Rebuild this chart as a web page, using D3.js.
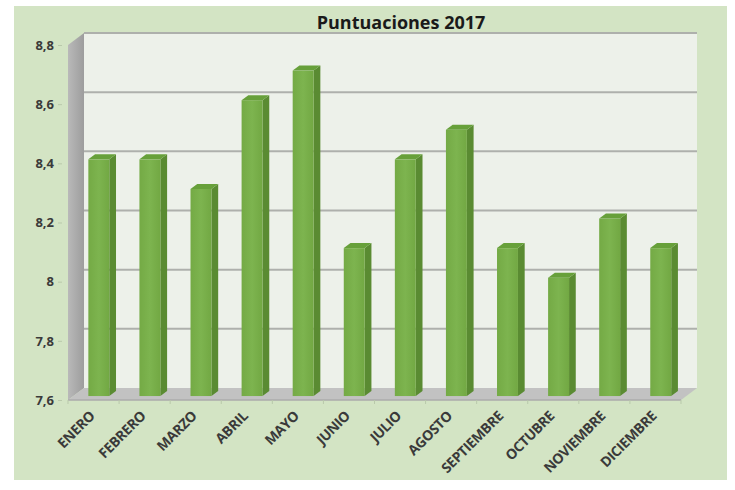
<!DOCTYPE html>
<html lang="es">
<head>
<meta charset="utf-8">
<title>Puntuaciones 2017</title>
<script src="https://cdn.jsdelivr.net/npm/d3@7"></script>
<style>
  body { margin: 0; background: #fff; }
  text { font-family: "Open Sans", Lato, sans-serif; }
</style>
</head>
<body>
<div id="chart"></div>
<script>
// data
const months = ["ENERO", "FEBRERO", "MARZO", "ABRIL", "MAYO", "JUNIO",
  "JULIO", "AGOSTO", "SEPTIEMBRE", "OCTUBRE", "NOVIEMBRE", "DICIEMBRE"];
const scores = [8.4, 8.4, 8.3, 8.6, 8.7, 8.1, 8.4, 8.5, 8.1, 8.0, 8.2, 8.1];
const yTicks = [7.6, 7.8, 8.0, 8.2, 8.4, 8.6, 8.8];
const yTickLabels = ["7,6", "7,8", "8", "8,2", "8,4", "8,6", "8,8"];

const W = 735, H = 490;
// back wall of the 3d box
const wall = { left: 84, right: 697, top: 33, bottom: 388 };
// depth offset from back to front
const dx = -16, dy = 12;
// bar occupies this slice of the depth
const zBack = 0.25, zFront = 0.67;

const svg = d3.select("#chart").append("svg")
  .attr("width", W)
  .attr("height", H);

// chart background
svg.append("rect")
  .attr("x", 14).attr("y", 6)
  .attr("width", 713).attr("height", 474)
  .attr("fill", "#d3e4c4");

const x = d3.scaleBand()
  .domain(months)
  .range([wall.left, wall.right]);

const y = d3.scaleLinear()
  .domain([7.6, 8.8])
  .range([wall.bottom, wall.top]);

const defs = svg.append("defs");
const sideGrad = defs.append("linearGradient").attr("id", "sideWall")
  .attr("x1", 0).attr("x2", 1).attr("y1", 0).attr("y2", 0);
sideGrad.append("stop").attr("offset", "0%").attr("stop-color", "#b9b9b9");
sideGrad.append("stop").attr("offset", "100%").attr("stop-color", "#9d9d9d");

const frontGrad = defs.append("linearGradient").attr("id", "barFront")
  .attr("x1", 0).attr("x2", 1).attr("y1", 0).attr("y2", 0);
frontGrad.append("stop").attr("offset", "0%").attr("stop-color", "#74aa45");
frontGrad.append("stop").attr("offset", "50%").attr("stop-color", "#7db44f");
frontGrad.append("stop").attr("offset", "100%").attr("stop-color", "#72a843");

// back wall
svg.append("rect")
  .attr("x", wall.left).attr("y", wall.top)
  .attr("width", wall.right - wall.left)
  .attr("height", wall.bottom - wall.top)
  .attr("fill", "#edf1ea");

// left side wall
svg.append("polygon")
  .attr("points", [
    [wall.left, wall.top], [wall.left + dx, wall.top + dy],
    [wall.left + dx, wall.bottom + dy], [wall.left, wall.bottom]
  ].join(" "))
  .attr("fill", "url(#sideWall)");

// floor
svg.append("polygon")
  .attr("points", [
    [wall.left, wall.bottom], [wall.right, wall.bottom],
    [wall.right + dx, wall.bottom + dy], [wall.left + dx, wall.bottom + dy]
  ].join(" "))
  .attr("fill", "#c2c2c2");
svg.append("line")
  .attr("x1", wall.left + dx).attr("x2", wall.right + dx)
  .attr("y1", wall.bottom + dy).attr("y2", wall.bottom + dy)
  .attr("stroke", "#ababab").attr("stroke-width", 1.5);

// gridlines on back wall
svg.append("g")
  .selectAll("line")
  .data(yTicks.slice(1))
  .join("line")
    .attr("x1", wall.left).attr("x2", wall.right)
    .attr("y1", d => y(d)).attr("y2", d => y(d))
    .attr("stroke", "#aeb0ac")
    .attr("stroke-width", 2);

// category ticks under the floor
svg.append("g")
  .selectAll("line")
  .data(months.concat(["end"]))
  .join("line")
    .attr("x1", (d, i) => wall.left + dx + i * x.step())
    .attr("x2", (d, i) => wall.left + dx + i * x.step())
    .attr("y1", wall.bottom + dy)
    .attr("y2", wall.bottom + dy + 4)
    .attr("stroke", "#b9c9ab");

// y axis labels, placed on the front plane
const yFront = y.copy().range([wall.bottom + dy, wall.top + dy]);
const yAxis = svg.append("g")
  .attr("transform", `translate(${wall.left + dx - 6},0)`)
  .call(d3.axisLeft(yFront)
    .tickValues(yTicks)
    .tickSize(4)
    .tickFormat((d, i) => yTickLabels[i]));
yAxis.select(".domain").remove();
yAxis.selectAll(".tick line").attr("stroke", "#b9c9ab");
yAxis.selectAll(".tick text")
  .attr("x", -8)
  .attr("fill", "#3a3a3a")
  .attr("font-size", 13)
  .attr("font-weight", "bold")
  .style("font-family", "'Open Sans', Lato, sans-serif");

// bars
const bw = x.bandwidth() * 0.41;
const bars = svg.append("g")
  .selectAll("g")
  .data(months.map((m, i) => ({ m, v: scores[i] })))
  .join("g");

function pt(px, py, z) { return [px + z * dx, py + z * dy]; }

bars.each(function (d) {
  const g = d3.select(this);
  const cx = x(d.m) + x.bandwidth() / 2;
  const xl = cx - bw / 2, xr = cx + bw / 2;
  const yt = y(d.v), yb = y(7.6);
  // side face
  g.append("polygon")
    .attr("points", [pt(xr, yt, zFront), pt(xr, yt, zBack), pt(xr, yb, zBack), pt(xr, yb, zFront)].join(" "))
    .attr("fill", "#5a8b32");
  // front face
  const f0 = pt(xl, yt, zFront);
  g.append("rect")
    .attr("x", f0[0]).attr("y", f0[1])
    .attr("width", bw).attr("height", yb - yt)
    .attr("fill", "url(#barFront)");
  // top cap
  g.append("polygon")
    .attr("points", [pt(xl, yt, zFront), pt(xr, yt, zFront), pt(xr, yt, zBack), pt(xl, yt, zBack)].join(" "))
    .attr("fill", "#67a03a");
});

// x labels, rotated
svg.append("g")
  .selectAll("text")
  .data(months)
  .join("text")
    .attr("transform", d => {
      const px = x(d) + x.bandwidth() / 2 + dx + 2;
      const py = wall.bottom + dy + 17;
      return `translate(${px},${py}) rotate(-45)`;
    })
    .attr("text-anchor", "end")
    .attr("fill", "#3a3a3a")
    .attr("font-size", 14)
    .attr("font-weight", "bold")
    .attr("letter-spacing", -0.4)
    .text(d => d);

// title
svg.append("text")
  .attr("x", 401).attr("y", 29)
  .attr("text-anchor", "middle")
  .attr("fill", "#1a1a1a")
  .attr("font-size", 18)
  .attr("font-weight", "bold")
  .text("Puntuaciones 2017");
</script>
</body>
</html>
